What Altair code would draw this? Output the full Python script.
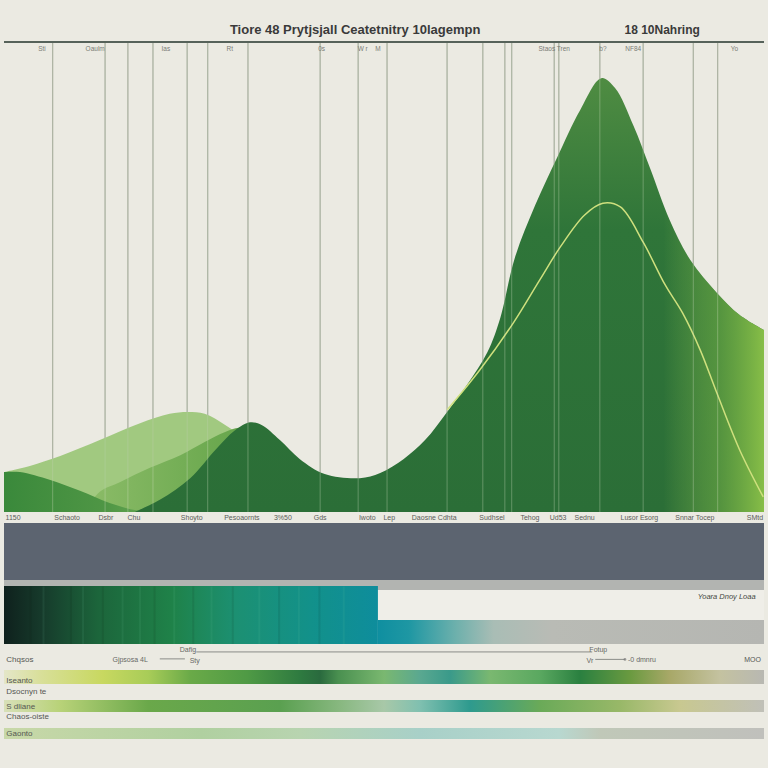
import altair as alt
import pandas as pd

# ---------------- data (upper panel: x 0..100, value 0..100) ----------------
grid_x = [6.4, 13.3, 16.3, 19.6, 24.1, 26.8, 32.1, 41.6, 46.6, 50.4, 58.3, 63.0,
          65.9, 66.8, 72.4, 73.0, 78.4, 84.1, 90.7, 93.9]

light_x = [0, 3.4, 7.4, 12.6, 17.9, 21.8, 24.2, 26.4, 29.1, 31.7, 35.0, 38.9]
light_y = [8.5, 9.8, 11.9, 15.3, 18.9, 20.9, 21.3, 20.9, 18.5, 15.3, 8.9, 0]

mid_x = [10.5, 12.6, 15.3, 19.2, 23.2, 26.4, 29.1, 31.1, 33.7, 37.6, 41.6]
mid_y = [0, 4.3, 6.4, 9.4, 12.1, 14.9, 17.0, 17.9, 15.7, 7.9, 0]

left_x = [0, 2.1, 6.1, 10.0, 13.9, 17.2, 19.2]
left_y = [8.5, 8.5, 6.8, 4.5, 1.9, 0.4, 0]

main_x = [17.2, 20.5, 24.5, 27.8, 30.4, 32.4, 33.9, 36.3, 38.9, 42.2, 46.8, 49.5,
          52.6, 55.4, 58.3, 60.9, 63.6, 65.3, 67.2, 69.9, 72.8, 75.8, 78.6, 80.4, 82.8,
          85.0, 87.6, 90.3, 93.8, 96.8, 100]
main_y = [0, 2.6, 7.2, 13.2, 17.4, 19.1, 18.5, 15.3, 11.3, 8.1, 7.2, 8.3,
          11.3, 15.3, 21.3, 27.0, 34.0, 41.3, 54.0, 65.3, 75.5, 85.5, 92.3, 90.2, 82.3,
          73.2, 62.1, 53.6, 46.6, 41.9, 38.7]

line_x = [58.3, 62.6, 67.0, 70.5, 73.2, 76.4, 78.8, 81.1, 84.1, 87.0, 89.3, 91.6,
          93.8, 96.8, 99.9]
line_y = [21.7, 30.2, 40.2, 49.4, 56.4, 63.2, 65.7, 64.9, 57.4, 48.3, 42.3, 34.5,
          25.3, 13.2, 3.2]

title_text = "Tiore 48 Prytjsjall Ceatetnitry 10lagempn"
subtitle_text = "18 10Nahring"

top_labels = ["Sti", "Oaulm", "Ias", "Rt", "0s", "W r", "M", "Staos Tren", "b?", "NF84", "Yo"]
top_label_x = [5.0, 12.0, 21.3, 29.7, 41.8, 47.2, 49.2, 72.4, 78.8, 82.8, 96.1]

bottom_labels = ["1150", "Schaoto", "Dsbr", "Chu", "Shoyto", "Pesoaornts", "3%50", "Gds",
                 "Iwoto", "Lep", "Daosne Cdhta", "Sudhsel", "Tehog", "Ud53", "Sednu",
                 "Lusor Esorg", "Snnar Tocep", "SMtd"]
bottom_label_x = [1.2, 8.3, 13.4, 17.1, 24.7, 31.3, 36.7, 41.6, 47.8, 50.7, 56.6, 64.2,
                  69.2, 72.9, 76.4, 83.6, 90.9, 98.8]

# ---------------- data (lower panel: x 0..100, depth 0..100) ----------------
band_names = ["slate", "grey", "bright", "grad", "fade", "row1", "row2", "row3"]
band_x0 = [0, 0, 49.2, 0, 49.2, 0, 0, 0]
band_x1 = [100, 100, 100, 49.2, 100, 100, 100, 100]
band_d0 = [1.2, 24.2, 28.2, 26.6, 40.3, 60.5, 72.6, 83.9]
band_d1 = [24.2, 28.2, 40.3, 50.0, 50.0, 66.1, 77.4, 88.3]

streak_x = [3.5, 5.2, 8.8, 10.4, 13.0, 15.6, 17.9, 19.8, 22.4, 24.9, 27.3, 30.1,
            33.6, 36.2, 38.8, 41.5, 44.7]
streak_tone = ["d", "l", "d", "l", "d", "l", "l", "d", "l", "d", "l", "d",
               "l", "d", "l", "d", "l"]

row_labels = ["Chqsos", "Iseanto", "Dsocnyn te", "S dliane", "Chaos-oiste", "Gaonto"]
row_label_d = [56.5, 64.9, 69.4, 75.4, 79.4, 86.3]

note_labels = ["Dafig", "Fotup", "Gjpsosa 4L", "Sty", "Vr", "-0 dmnru", "MOO", "Yoara Dnoy Loaa"]
note_x = [24.2, 78.2, 16.6, 25.1, 77.1, 82.1, 99.6, 98.9]
note_d = [52.4, 52.4, 56.5, 56.9, 56.9, 56.5, 56.5, 31.0]

link_x0 = [25.3, 20.5, 77.8]
link_x1 = [77.4, 23.8, 81.7]
link_d = [53.2, 56.0, 56.2]

# ---------------- scales ----------------
X = alt.Scale(domain=[0, 100], range=[4, 764], nice=False, zero=False)
YU = alt.Scale(domain=[0, 100], range=[512, 42], nice=False, zero=False)
YL = alt.Scale(domain=[0, 100], range=[520, 768], nice=False, zero=False)
FONT = "Liberation Sans"


def grad(stops, vertical=False):
    return alt.LinearGradient(
        gradient="linear",
        stops=[alt.GradientStop(color=c, offset=o) for o, c in stops],
        x1=0, x2=0 if vertical else 1, y1=0, y2=1 if vertical else 0,
    )


def area(xs, ys, color, opacity=1.0):
    df = pd.DataFrame({"x": xs, "y": ys})
    return alt.Chart(df).mark_area(color=color, opacity=opacity, interpolate="catmull-rom").encode(
        x=alt.X("x:Q", scale=X, axis=None),
        y=alt.Y("y:Q", scale=YU, axis=None),
        y2=alt.Y2(datum=0),
    )


grid_df = pd.DataFrame({"x": grid_x})
grid_back = alt.Chart(grid_df).mark_rule(color="#9da296", strokeWidth=1.2).encode(
    x=alt.X("x:Q", scale=X, axis=None),
    y=alt.Y(datum=0, scale=YU, axis=None),
    y2=alt.Y2(datum=100),
)
grid_front = alt.Chart(grid_df).mark_rule(color="#d8e4c8", strokeWidth=1.1, opacity=0.3).encode(
    x=alt.X("x:Q", scale=X, axis=None),
    y=alt.Y(datum=0, scale=YU, axis=None),
    y2=alt.Y2(datum=100),
)

light_area = area(light_x, light_y, "#9ac577", 0.92)
mid_area = area(mid_x, mid_y, grad([(0, "#8cbc68"), (0.6, "#6aa84e"), (1, "#5a9e46")]))
left_area = area(left_x, left_y, grad([(0, "#3a893b"), (0.7, "#4f9645"), (1, "#66a752")]))
main_area = area(main_x, main_y, grad([(0, "#4f8c42"), (0.35, "#2f7539"), (1, "#2b6e37")], vertical=True))
main_glow = area(main_x, main_y, grad([(0, "rgba(140,190,75,0)"), (0.84, "rgba(140,190,75,0)"),
                                       (0.93, "rgba(112,172,68,0.6)"), (1, "rgba(140,194,72,0.95)")]))

line_df = pd.DataFrame({"x": line_x, "y": line_y})
peak_line = alt.Chart(line_df).mark_line(color="#cfe07e", strokeWidth=1.5, interpolate="catmull-rom").encode(
    x=alt.X("x:Q", scale=X, axis=None),
    y=alt.Y("y:Q", scale=YU, axis=None),
)

top_rule = alt.Chart(pd.DataFrame({"a": [0], "b": [100], "y": [100]})).mark_rule(
    color="#56625a", strokeWidth=2).encode(
    x=alt.X("a:Q", scale=X, axis=None), x2="b:Q",
    y=alt.Y("y:Q", scale=YU, axis=None),
)

title_df = pd.DataFrame({"t": [title_text, subtitle_text], "x": [46.2, 86.6], "y": [102.6, 102.6],
                         "s": [13, 12]})
titles = alt.Chart(title_df).mark_text(font=FONT, color="#3a3a3a", fontWeight="bold", baseline="middle").encode(
    x=alt.X("x:Q", scale=X, axis=None),
    y=alt.Y("y:Q", scale=YU, axis=None),
    text="t:N",
    size=alt.Size("s:Q", scale=None, legend=None),
)

top_df = pd.DataFrame({"t": top_labels, "x": top_label_x, "y": [98.6] * len(top_labels)})
top_text = alt.Chart(top_df).mark_text(font=FONT, fontSize=6.5, color="#7a7c76", baseline="middle").encode(
    x=alt.X("x:Q", scale=X, axis=None), y=alt.Y("y:Q", scale=YU, axis=None), text="t:N")

bot_df = pd.DataFrame({"t": bottom_labels, "x": bottom_label_x, "y": [-1.3] * len(bottom_labels)})
bot_text = alt.Chart(bot_df).mark_text(font=FONT, fontSize=7, color="#5a5c58", baseline="middle").encode(
    x=alt.X("x:Q", scale=X, axis=None), y=alt.Y("y:Q", scale=YU, axis=None), text="t:N")

# ---------------- lower panel ----------------
bands = pd.DataFrame({"name": band_names, "x0": band_x0, "x1": band_x1, "d0": band_d0, "d1": band_d1})


def band(name, color):
    return alt.Chart(bands).transform_filter(alt.datum.name == name).mark_rect(color=color).encode(
        x=alt.X("x0:Q", scale=X, axis=None), x2="x1:Q",
        y=alt.Y("d0:Q", scale=YL, axis=None), y2="d1:Q",
    )


slate = band("slate", "#5c6470")
grey = band("grey", "#b2b4b1")
bright = band("bright", "#efeee8")
grad_bar = band("grad", grad([(0, "#0f211d"), (0.1, "#163a2b"), (0.25, "#1c653b"), (0.45, "#1f8249"),
                              (0.62, "#1c9072"), (0.82, "#12918a"), (1, "#0e8d9c")]))
fade_bar = band("fade", grad([(0, "#0f8fa0"), (0.08, "#1e97a3"), (0.2, "#6cb0ac"), (0.3, "#a9bdb5"),
                              (0.45, "#b9bbb5"), (1, "#b5b6b2")]))
row1 = band("row1", grad([(0, "#e4e6c8"), (0.05, "#d8df98"), (0.13, "#c8d860"), (0.19, "#a8cc58"),
                          (0.245, "#6aaa48"), (0.32, "#4f9a45"), (0.39, "#2e7a40"), (0.416, "#2a6a3e"),
                          (0.44, "#4a9050"), (0.5, "#7ab870"), (0.547, "#5aa890"), (0.587, "#3a9a8a"),
                          (0.64, "#7ab870"), (0.705, "#5aa860"), (0.758, "#2a8040"), (0.824, "#6a9a40"),
                          (0.876, "#a8a868"), (0.942, "#c4c2a0"), (1, "#b8b8b2")]))
row2 = band("row2", grad([(0, "#d8e0b8"), (0.074, "#b8d278"), (0.19, "#6aa84a"), (0.363, "#5aa050"),
                          (0.442, "#88b880"), (0.5, "#a8c8a8"), (0.547, "#80c0b0"), (0.613, "#2e9a8e"),
                          (0.705, "#6aaa58"), (0.81, "#98b868"), (0.889, "#c8c890"), (1, "#c0c0b8")]))
row3 = band("row3", grad([(0, "#c8d8a8"), (0.26, "#b0d0a0"), (0.39, "#b8d4b0"), (0.547, "#a8d0c8"),
                          (0.73, "#b8d8d0"), (0.784, "#c0c8b8"), (1, "#c0c0bc")]))

streak_df = pd.DataFrame({"x": streak_x, "tone": streak_tone})
streaks = alt.Chart(streak_df).mark_rule(strokeWidth=2, opacity=0.09).encode(
    x=alt.X("x:Q", scale=X, axis=None),
    y=alt.Y(datum=26.8, scale=YL, axis=None),
    y2=alt.Y2(datum=50.0),
    color=alt.Color("tone:N", scale=alt.Scale(domain=["d", "l"], range=["#061410", "#7fd0a8"]), legend=None),
)

links_df = pd.DataFrame({"a": link_x0, "b": link_x1, "d": link_d})
links = alt.Chart(links_df).mark_rule(color="#8a8c88", strokeWidth=1).encode(
    x=alt.X("a:Q", scale=X, axis=None), x2="b:Q", y=alt.Y("d:Q", scale=YL, axis=None))
dot = alt.Chart(links_df.tail(1)).mark_point(filled=True, size=8, color="#777").encode(
    x=alt.X("b:Q", scale=X, axis=None), y=alt.Y("d:Q", scale=YL, axis=None))

rowlab_df = pd.DataFrame({"t": row_labels, "d": row_label_d, "x": [0.3] * len(row_labels)})
row_text = alt.Chart(rowlab_df).mark_text(font=FONT, fontSize=8, color="#555752", align="left",
                                          baseline="middle").encode(
    x=alt.X("x:Q", scale=X, axis=None), y=alt.Y("d:Q", scale=YL, axis=None), text="t:N")

note_df = pd.DataFrame({"t": note_labels, "x": note_x, "d": note_d,
                        "al": ["center", "center", "center", "center", "center", "left", "right", "right"]})
note_center = alt.Chart(note_df).transform_filter("datum.al == 'center'").mark_text(
    font=FONT, fontSize=7, color="#666864", baseline="middle").encode(
    x=alt.X("x:Q", scale=X, axis=None), y=alt.Y("d:Q", scale=YL, axis=None), text="t:N")
note_left = alt.Chart(note_df).transform_filter("datum.al == 'left'").mark_text(
    font=FONT, fontSize=7, color="#666864", baseline="middle", align="left").encode(
    x=alt.X("x:Q", scale=X, axis=None), y=alt.Y("d:Q", scale=YL, axis=None), text="t:N")
note_right = alt.Chart(note_df).transform_filter("datum.al == 'right' && datum.d > 40").mark_text(
    font=FONT, fontSize=7, color="#555752", baseline="middle", align="right").encode(
    x=alt.X("x:Q", scale=X, axis=None), y=alt.Y("d:Q", scale=YL, axis=None), text="t:N")
note_italic = alt.Chart(note_df).transform_filter("datum.al == 'right' && datum.d < 40").mark_text(
    font=FONT, fontSize=7.5, color="#444642", baseline="middle", align="right", fontStyle="italic").encode(
    x=alt.X("x:Q", scale=X, axis=None), y=alt.Y("d:Q", scale=YL, axis=None), text="t:N")

chart = alt.layer(
    grid_back, light_area, mid_area, left_area, main_area, main_glow, peak_line, grid_front,
    top_rule, titles, top_text, bot_text,
    slate, grey, bright, grad_bar, fade_bar, streaks, row1, row2, row3,
    links, dot, row_text, note_center, note_left, note_right, note_italic,
).resolve_scale(y="independent", color="independent").properties(
    width=768, height=768, background="#ebeae2", padding=0,
    autosize=alt.AutoSizeParams(type="none"),
).configure_view(stroke=None)

chart.save("out.html", embed_options={"renderer": "svg", "actions": False})
